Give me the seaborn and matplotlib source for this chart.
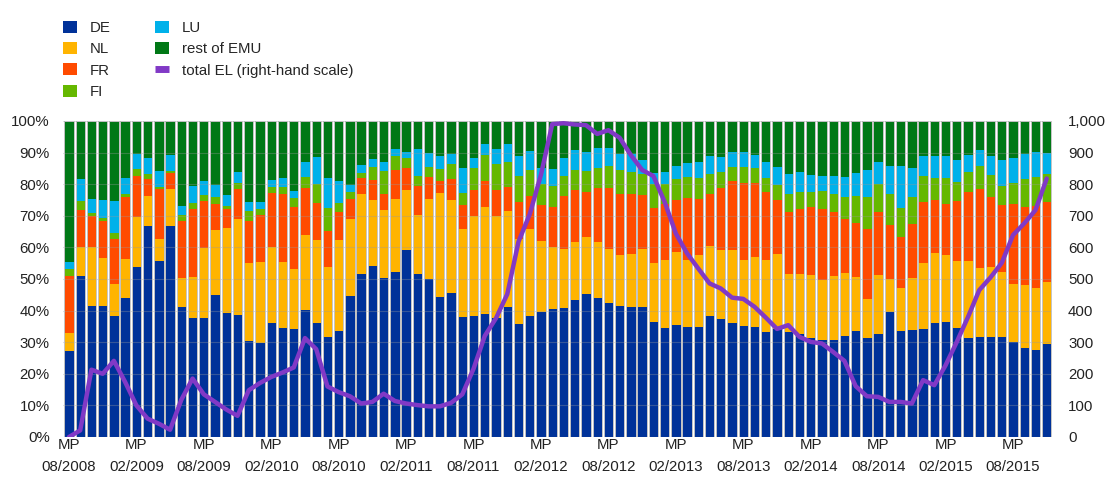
import numpy as np
import pandas as pd
import seaborn as sns
import matplotlib
matplotlib.use("Agg")
import matplotlib.pyplot as plt
from matplotlib.patches import Patch
from matplotlib.lines import Line2D
from matplotlib.ticker import FuncFormatter, MultipleLocator, FixedLocator

# Shares of excess liquidity by country (% of total), one value per maintenance period
de = [27.1, 50.8, 41.6, 41.6, 38.2, 44.1, 53.9, 66.8, 55.8, 66.8, 41.1, 37.7, 37.7, 44.8, 39.3,
      38.6, 30.4, 29.8, 36.2, 34.6, 34.1, 40.1, 36.2, 31.8, 33.6, 44.5, 51.5, 54.1, 50.2, 52.3,
      59.2, 51.5, 50.0, 44.4, 45.5, 38.0, 38.3, 38.8, 37.6, 41.1, 35.7, 38.4, 39.7, 40.4, 40.9,
      43.4, 45.3, 44.0, 42.5, 41.6, 41.2, 41.2, 36.4, 34.4, 35.4, 34.7, 34.9, 38.3, 37.2, 36.1,
      35.2, 34.9, 33.3, 34.2, 33.3, 32.5, 31.4, 30.7, 30.7, 31.9, 33.5, 31.4, 32.5, 39.5, 33.5,
      33.9, 34.2, 36.2, 36.5, 34.6, 31.4, 31.8, 31.8, 31.6, 30.1, 28.3, 27.5, 29.5]
nl = [5.7, 9.4, 18.5, 15.1, 10.3, 12.3, 15.8, 9.4, 6.9, 11.8, 9.3, 13.0, 22.0, 20.8, 26.8,
      30.4, 24.6, 25.7, 23.9, 20.7, 19.2, 23.9, 26.3, 21.9, 28.6, 24.4, 25.3, 20.9, 21.6, 23.0,
      19.1, 18.8, 25.3, 32.8, 29.5, 27.8, 31.7, 34.1, 32.2, 30.5, 27.0, 27.4, 22.4, 19.7, 18.7,
      18.4, 18.0, 17.8, 17.0, 16.0, 16.8, 18.3, 18.7, 21.5, 23.2, 21.4, 22.7, 22.1, 22.0, 23.1,
      20.8, 22.1, 22.7, 23.7, 18.4, 19.1, 19.8, 19.0, 20.2, 20.0, 17.1, 12.4, 18.8, 10.6, 13.8,
      16.3, 20.9, 22.1, 21.0, 21.2, 24.4, 21.7, 22.0, 20.5, 18.3, 19.8, 19.5, 19.4]
fr = [18.2, 11.7, 9.9, 11.5, 14.1, 19.6, 13.0, 5.6, 15.7, 5.0, 17.9, 21.5, 15.0, 8.0, 5.9,
      9.4, 13.3, 14.6, 17.2, 21.7, 19.4, 14.9, 11.7, 11.4, 8.9, 6.5, 5.3, 6.4, 5.1, 9.1,
      6.9, 9.0, 6.9, 3.9, 6.8, 7.6, 8.3, 8.0, 8.3, 7.4, 11.6, 10.6, 11.2, 12.8, 16.6,
      16.3, 14.1, 16.9, 19.4, 19.3, 18.8, 17.0, 17.4, 17.9, 16.4, 19.4, 17.7, 16.4, 19.5, 21.9,
      24.3, 23.3, 21.4, 17.0, 19.4, 20.7, 21.6, 22.3, 20.2, 17.2, 17.2, 22.1, 19.8, 16.9, 16.1,
      17.3, 19.2, 16.8, 16.3, 19.0, 21.6, 24.9, 22.2, 21.4, 25.3, 24.6, 26.0, 25.4]
fi = [2.3, 2.8, 0.8, 1.1, 1.8, 0.9, 2.1, 1.3, 0.7, 0.7, 2.0, 1.8, 2.0, 2.2, 1.1,
      1.9, 3.1, 2.2, 1.9, 2.1, 3.0, 3.5, 5.8, 7.3, 3.1, 2.2, 1.3, 4.1, 7.3, 4.4,
      3.0, 3.2, 3.2, 3.8, 4.6, 3.8, 6.7, 8.2, 8.2, 8.1, 8.3, 8.0, 6.7, 6.4, 6.3,
      6.3, 6.9, 6.5, 7.0, 7.5, 7.2, 6.8, 7.5, 6.3, 6.5, 6.7, 6.8, 6.3, 5.2, 4.4,
      5.2, 4.7, 4.5, 4.8, 5.9, 5.3, 4.6, 5.8, 5.7, 6.7, 8.6, 10.2, 9.0, 9.8, 9.1,
      8.3, 8.3, 6.8, 8.1, 6.0, 6.5, 7.3, 6.9, 6.0, 6.7, 8.9, 9.4, 8.8]
lu = [2.0, 6.8, 4.5, 5.7, 10.4, 5.0, 4.7, 5.2, 5.1, 4.8, 2.7, 5.3, 4.4, 3.9, 3.4,
      3.5, 2.9, 2.0, 2.1, 2.8, 2.2, 4.6, 8.7, 9.5, 6.8, 2.1, 2.7, 2.4, 2.7, 2.2,
      1.9, 8.5, 4.4, 3.9, 3.2, 8.0, 3.3, 3.6, 4.9, 5.5, 6.2, 6.0, 5.0, 5.5, 5.8,
      6.4, 5.9, 6.2, 5.5, 5.3, 5.6, 4.5, 3.4, 3.9, 4.3, 4.5, 5.0, 5.8, 4.6, 4.6,
      4.7, 4.3, 5.2, 5.7, 6.2, 6.3, 5.4, 4.8, 5.8, 6.4, 7.0, 8.3, 6.8, 8.9, 13.2,
      9.2, 6.2, 7.0, 6.9, 7.0, 5.4, 5.2, 5.9, 8.2, 8.0, 8.0, 7.7, 6.8]

# Total excess liquidity (EUR billions, right-hand scale)
total_el = [0, 21, 213, 200, 241, 174, 100, 58, 42, 23, 118, 185, 135, 111, 87,
            67, 148, 171, 190, 204, 220, 313, 278, 160, 142, 129, 106, 111, 137, 114,
            106, 101, 97, 97, 108, 135, 216, 320, 376, 452, 618, 705, 830, 990, 993,
            989, 987, 959, 971, 947, 892, 845, 826, 744, 644, 581, 533, 486, 470, 441,
            437, 412, 378, 342, 354, 317, 301, 296, 269, 241, 161, 129, 127, 111, 111,
            106, 180, 164, 227, 301, 380, 465, 505, 551, 639, 676, 718, 818]

tick_prefix = "MP"
tick_dates = ["08/2008", "02/2009", "08/2009", "02/2010", "08/2010", "02/2011", "08/2011",
              "02/2012", "08/2012", "02/2013", "08/2013", "02/2014", "08/2014", "02/2015",
              "08/2015"]
tick_step = 6

series_names = ["DE", "NL", "FR", "FI", "LU", "rest of EMU"]
colors = ["#003299", "#FFB400", "#FF4B00", "#65B800", "#00B1EA", "#007816"]
line_color = "#8139C6"

n = len(de)
period = np.arange(n)
shares = pd.DataFrame({"DE": de, "NL": nl, "FR": fr, "FI": fi, "LU": lu})
shares["rest of EMU"] = 100 - shares.sum(axis=1)
cumulative = shares[series_names].cumsum(axis=1)

sns.set_theme(style="white")
plt.rcParams["font.family"] = ["Liberation Sans", "DejaVu Sans"]
plt.rcParams["font.size"] = 10.8
text_color = "#222222"

fig = plt.figure(figsize=(11.08, 4.8), dpi=100)
ax = fig.add_axes([63 / 1108, 1 - 437 / 480, (1052 - 63) / 1108, (437 - 121) / 480])

bar_width = 0.83
# stacked bars: draw the cumulative totals from the top segment down
for name, color in zip(series_names[::-1], colors[::-1]):
    sns.barplot(x=period, y=cumulative[name].values, color=color, saturation=1,
                width=bar_width, linewidth=0, ax=ax, zorder=2)
# thin outline around each full column
sns.barplot(x=period, y=cumulative["rest of EMU"].values, fill=False, color="#c4c4c4",
            width=bar_width, linewidth=0.7, ax=ax, zorder=3)

ax.set_ylim(0, 100)
ax.set_xlim(-0.53, n - 0.53)
ax.yaxis.set_major_locator(MultipleLocator(10))
ax.yaxis.set_major_formatter(FuncFormatter(lambda v, p: f"{int(round(v))}%"))

# two-row period labels: "MP" on the major ticks, the date on minor ticks below it
tick_pos = period[::tick_step]
ax.xaxis.remove_overlapping_locs = False
ax.xaxis.set_major_locator(FixedLocator(tick_pos))
ax.set_xticklabels([tick_prefix] * len(tick_pos))
ax.xaxis.set_minor_locator(FixedLocator(tick_pos))
ax.set_xticklabels(tick_dates, minor=True)
ax.set_xlabel("")
ax.set_ylabel("")
ax.grid(axis="y", color="#9a9a9a", alpha=0.35, linewidth=0.8, zorder=4)
ax.set_axisbelow(False)
ax.tick_params(axis="both", which="both", length=0, labelsize=10.8, colors=text_color)
ax.tick_params(axis="y", pad=9.5)
ax.tick_params(axis="x", which="major", pad=1)
ax.tick_params(axis="x", which="minor", pad=16.5)
for s in ax.spines.values():
    s.set_visible(False)

ax2 = ax.twinx()
sns.lineplot(x=period, y=total_el, color=line_color, linewidth=3.2, ax=ax2, zorder=5,
             solid_joinstyle="round")
ax2.set_ylim(0, 1000)
ax2.yaxis.set_major_locator(MultipleLocator(100))
ax2.yaxis.set_major_formatter(FuncFormatter(lambda v, p: f"{int(round(v)):,}"))
ax2.tick_params(axis="y", length=0, labelsize=10.8, colors=text_color, pad=11.5)
ax2.set_ylabel("")
ax2.grid(False)
for s in ax2.spines.values():
    s.set_visible(False)

handles = [Patch(facecolor=c, edgecolor="none") for c in colors]
handles.append(Line2D([0], [0], color=line_color, linewidth=5, solid_capstyle="butt"))
labels = series_names + ["total EL (right-hand scale)"]
fig.legend(handles, labels, loc="upper left", bbox_to_anchor=(63 / 1108, 1 - 21 / 480),
           ncol=2, frameon=False, fontsize=10.8, handlelength=0.95, handleheight=0.85,
           handletextpad=0.85, columnspacing=2.95, labelspacing=0.47, borderpad=0,
           borderaxespad=0)

fig.savefig("out.png", dpi=100)
